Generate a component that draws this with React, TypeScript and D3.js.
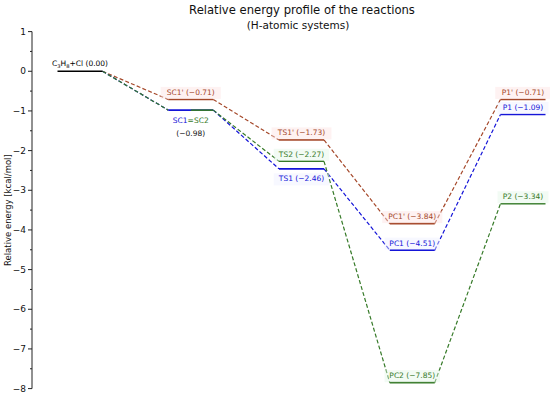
import * as d3 from 'd3';

// energy path for each series, stages: R, SC, TS, PC, P
const stageNames = ['R', 'SC', 'TS', 'PC', 'P'];
const brownVals = [0, -0.71, -1.73, -3.84, -0.71];
const blueVals = [0, -0.98, -2.46, -4.51, -1.09];
const greenVals = [0, -0.98, -2.27, -7.85, -3.34];
const brownNames = ['', "SC1'", "TS1'", "PC1'", "P1'"];
const blueNames = ['', 'SC1', 'TS1', 'PC1', 'P1'];
const greenNames = ['', 'SC2', 'TS2', 'PC2', 'P2'];
const yTicks = [1, 0, -1, -2, -3, -4, -5, -6, -7, -8];

const BROWN = '#a5482a';
const BLUE = '#1515d8';
const GREEN = '#367a28';
const FONT = 'DejaVu Sans, sans-serif';

const fmt = (v: number) => (v < 0 ? '\u2212' + Math.abs(v).toFixed(2) : v.toFixed(2));

const x = d3.scaleLinear().domain([0, stageNames.length - 1]).range([80, 523]);
const y = d3.scaleLinear().domain([1, -8]).range([31.6, 388.6]);
const hw = 22.5;

type Series = { vals: number[]; names: string[]; color: string; bg: string; below: number[] };
const series: Series[] = [
  { vals: brownVals, names: brownNames, color: BROWN, bg: '#fde3e3', below: [] },
  { vals: blueVals, names: blueNames, color: BLUE, bg: '#eef0ff', below: [1, 2] },
  { vals: greenVals, names: greenNames, color: GREEN, bg: '#e3f7e6', below: [1] },
];

const Label = ({ cx, cy, text, color, bg }: { cx: number; cy: number; text: string; color: string; bg: string }) => {
  const w = text.length * 4.5 + 6;
  return (
    <g>
      <rect x={cx - w / 2} y={cy - 8} width={w} height={12} fill={bg} opacity={0.45} />
      <text x={cx} y={cy} textAnchor="middle" fontSize={7.5} fill={color} fontFamily={FONT}>{text}</text>
    </g>
  );
};

export default function App() {
  const minor = d3.range(-8, 1.01, 0.5).filter((v) => Math.abs(v % 1) > 0.01);
  return (
    <svg width={550} height={396} style={{ position: 'absolute', left: 0, top: 0, background: '#fff' }}>
      <text x={302} y={14} textAnchor="middle" fontSize={11.6} fontFamily={FONT} fill="#111">
        Relative energy profile of the reactions
      </text>
      <text x={298} y={29} textAnchor="middle" fontSize={10.5} fontFamily={FONT} fill="#111">
        (H-atomic systems)
      </text>
      <text transform={`translate(11,${y(-3.5)}) rotate(-90)`} textAnchor="middle" fontSize={8.5} fontFamily={FONT} fill="#111">
        Relative energy [kcal/mol]
      </text>

      {/* y axis */}
      <line x1={32} x2={32} y1={y(1)} y2={y(-8)} stroke="#222" strokeWidth={1} />
      {yTicks.map((t) => (
        <g key={t}>
          <line x1={28} x2={32} y1={y(t)} y2={y(t)} stroke="#222" />
          <text x={26} y={y(t) + 3.2} textAnchor="end" fontSize={9} fontFamily={FONT} fill="#111">
            {t < 0 ? '\u2212' + Math.abs(t) : t}
          </text>
        </g>
      ))}
      {minor.map((t) => (
        <line key={t} x1={30} x2={32} y1={y(t)} y2={y(t)} stroke="#222" />
      ))}

      {/* connectors */}
      {series.map((s) =>
        s.vals.slice(0, -1).map((v, i) => (
          <line
            key={s.color + i}
            x1={x(i) + hw}
            y1={y(v)}
            x2={x(i + 1) - hw}
            y2={y(s.vals[i + 1])}
            stroke={s.color}
            strokeWidth={1.2}
            strokeDasharray="4,2.2"
          />
        ))
      )}

      {/* levels */}
      {series.map((s) =>
        s.vals.map((v, i) => {
          if (i === 0) return null;
          const shared = i === 1 && s.color === GREEN;
          return (
            <line
              key={s.color + 'l' + i}
              x1={shared ? x(i) : x(i) - hw}
              x2={x(i) + hw}
              y1={y(v)}
              y2={y(v)}
              stroke={s.color}
              strokeWidth={1.6}
            />
          );
        })
      )}
      <line x1={x(0) - hw} x2={x(0) + hw} y1={y(0)} y2={y(0)} stroke="#000" strokeWidth={1.6} />

      {/* labels */}
      <text x={x(0)} y={y(0) - 5} textAnchor="middle" fontSize={7.5} fontFamily={FONT} fill="#000">
        C<tspan fontSize={5.2} dy={1.5}>3</tspan><tspan dy={-1.5}>H</tspan><tspan fontSize={5.2} dy={1.5}>8</tspan>
        <tspan dy={-1.5}>+Cl ({fmt(0)})</tspan>
      </text>
      {series.map((s) =>
        s.vals.map((v, i) => {
          if (i === 0) return null;
          if (i === 1 && s.color !== BROWN) return null;
          const below = s.below.includes(i);
          const cy = below ? y(v) + 12.5 : y(v) - 4.5;
          return <Label key={s.color + 't' + i} cx={x(i)} cy={cy} text={`${s.names[i]} (${fmt(v)})`} color={s.color} bg={s.bg} />;
        })
      )}
      <text x={x(1)} y={y(-0.98) + 12.5} textAnchor="middle" fontSize={7.5} fontFamily={FONT}>
        <tspan fill={BLUE}>{blueNames[1]}</tspan>
        <tspan fill={GREEN}>={greenNames[1]}</tspan>
      </text>
      <text x={x(1)} y={y(-0.98) + 25.5} textAnchor="middle" fontSize={7.5} fontFamily={FONT} fill="#111">
        ({fmt(blueVals[1])})
      </text>
    </svg>
  );
}
